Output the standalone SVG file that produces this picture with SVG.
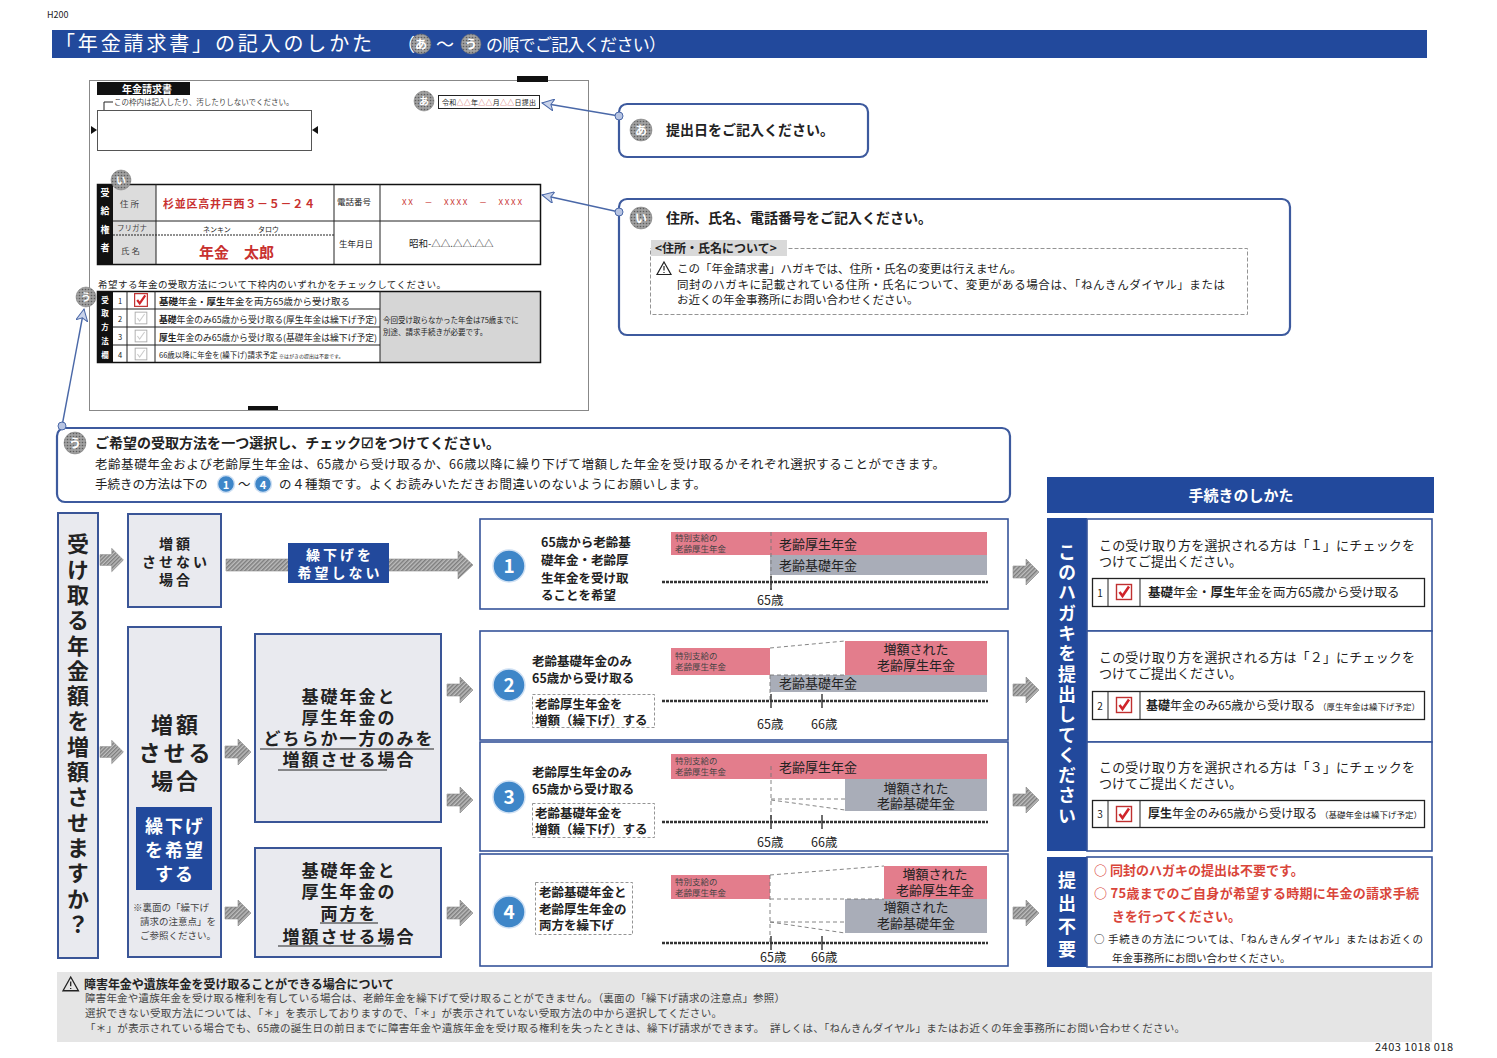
<svg xmlns="http://www.w3.org/2000/svg" width="1497" height="1058" viewBox="0 0 1497 1058">
<defs>
<style>
text{font-family:"Noto Sans CJK JP","Noto Sans",sans-serif;fill:#222}
.w{fill:#fff}
.b{font-weight:bold}
.red{fill:#c8312f}
.rd{fill:#d9453a}
.g4{fill:#444}
.m{text-anchor:middle}
.v{writing-mode:vertical-rl}
.bx{fill:#fff;stroke:#36549a;stroke-width:1.6}
.fb{fill:#e9eaef;stroke:#3a5597;stroke-width:2}
.blu{fill:#22499c}
.call{fill:#fff;stroke:#3d5a9e;stroke-width:2.2}
.pink{fill:#e37d8c}
.gbar{fill:#a9adb8}
.tl{stroke:#333;stroke-width:2.4;stroke-dasharray:3 1}
.tk{stroke:#333;stroke-width:1.4}
.dash{fill:none;stroke:#777;stroke-width:0.9;stroke-dasharray:4 3}
.dbox{fill:#fff;stroke:#888;stroke-width:0.9;stroke-dasharray:3 2}
.arr{fill:url(#hatch);stroke:#8a8a8a;stroke-width:0.6}
.num{fill:#3e86c8;stroke:#cfe0f3;stroke-width:1.5}
.ln{stroke:#222;stroke-width:1;fill:none}
.ptr{stroke:#4a68a8;stroke-width:1.4;fill:none}
.ball{fill:#b7c4e2;stroke:#4a68a8;stroke-width:1}
.bd{fill:url(#dots);stroke:#777;stroke-width:0.5}
</style>
<pattern id="hatch" width="3" height="3" patternUnits="userSpaceOnUse" patternTransform="rotate(45)">
<rect width="3" height="3" fill="#bdbdbd"/><rect width="1.5" height="3" fill="#7d7d7d"/>
</pattern>
<pattern id="dots" width="3" height="3" patternUnits="userSpaceOnUse">
<rect width="3" height="3" fill="#a0a0a0"/><circle cx="1.5" cy="1.5" r="0.8" fill="#5e5e5e"/>
</pattern>
<marker id="ah" markerWidth="14" markerHeight="12" refX="12" refY="6" orient="auto" markerUnits="userSpaceOnUse">
<path d="M0,0 L12,6 L0,12 L3,6 Z" fill="#c9d3ea" stroke="#4a68a8" stroke-width="1"/>
</marker>
<path id="sa" d="M0,-6 H13 V-13 L26,0 L13,13 V6 H0 Z"/>
<g id="chk"><rect x="-7.5" y="-7.5" width="15" height="15" fill="#fff" stroke="#c03030" stroke-width="1.4"/><path d="M-4.5,0 L-1.5,4 L5,-5.5" fill="none" stroke="#d0242a" stroke-width="2.6"/></g>
<g id="chkg"><rect x="-6.5" y="-6.5" width="13" height="13" fill="#fff" stroke="#aaa" stroke-width="1"/><path d="M-4,0 L-1.5,3.5 L4,-4.5" fill="none" stroke="#ccc" stroke-width="1.2"/></g>
<path id="warn" d="M7,0 L14,12.5 L0,12.5 Z M7,4 V8.5 M7,10 V11" fill="none" stroke="#222" stroke-width="1.2"/>
</defs>

<rect width="1497" height="1058" fill="#fff"/>

<g id="header">
<text x="47" y="18" font-size="9">H200</text>
<rect x="52" y="30" width="1375" height="28" class="blu"/>
<text x="55" y="51" font-size="20" class="w" textLength="317">「年金請求書」の記入のしかた</text>
<text x="397" y="51" font-size="18" class="w">（</text>
<circle cx="421" cy="44" r="10" class="bd"/><text x="421" y="49" font-size="12" class="w b m">あ</text>
<text x="436" y="51" font-size="18" class="w">～</text>
<circle cx="471" cy="44" r="10" class="bd"/><text x="471" y="49" font-size="12" class="w b m">う</text>
<text x="486" y="51" font-size="17" class="w" textLength="180">の順でご記入ください）</text>
</g>

<g id="form">
<rect x="89.5" y="80.5" width="499" height="330" fill="#fff" stroke="#888" stroke-width="1"/>
<rect x="517" y="76" width="31" height="6" fill="#111"/>
<rect x="248" y="406" width="30" height="4" fill="#111"/>
<rect x="97" y="82" width="93" height="13" fill="#111"/>
<text x="122" y="92.5" font-size="10" class="w b">年金請求書</text>
<path d="M104,110 V102 H113" class="ln" stroke-width="0.7"/>
<text x="114" y="105" font-size="7.5" class="g4">この枠内は記入したり、汚したりしないでください。</text>
<rect x="97.5" y="110.5" width="214" height="40" fill="#fff" stroke="#555"/>
<path d="M91,126 L97,130 L91,134Z" fill="#111"/>
<path d="M318,126 L312,130 L318,134Z" fill="#111"/>
<circle cx="424" cy="101" r="10" class="bd"/><text x="424" y="105" font-size="10" class="w b m">あ</text>
<rect x="438.5" y="95.5" width="101" height="13" fill="#fff" stroke="#222"/>
<text x="442" y="105" font-size="7" textLength="94">令和<tspan class="red">△△</tspan>年<tspan class="red">△△</tspan>月<tspan class="red">△△</tspan>日提出</text>

<rect x="97" y="184" width="16" height="80" fill="#111"/>
<text x="105" y="188" font-size="9" class="w b v" letter-spacing="9.5">受給権者</text>
<rect x="113" y="184" width="43" height="80" fill="#dcdcdc"/>
<rect x="97.5" y="184.5" width="443" height="80" fill="none" stroke="#111" stroke-width="1.5"/>
<path d="M113,221 H540 M156,184 V264 M334,184 V264 M380,184 V264" class="ln" stroke-width="0.9"/>
<path d="M113,235 H334" class="ln" stroke-width="0.7" stroke-dasharray="2 1"/>
<circle cx="121" cy="180" r="10" class="bd"/><text x="121" y="184" font-size="10" class="w b m">い</text>
<text x="120" y="207" font-size="8.5" class="g4">住 所</text>
<text x="117" y="231" font-size="7.5" class="g4">フリガナ</text>
<text x="121" y="254" font-size="8.5" class="g4">氏 名</text>
<text x="163" y="208" font-size="11" class="red b" textLength="152">杉並区高井戸西３－５－２４</text>
<text x="337" y="205" font-size="8.5">電話番号</text>
<text x="402" y="205" font-size="8" class="red" textLength="120">XX　－　XXXX　－　XXXX</text>
<text x="203" y="232" font-size="7">ネンキン</text>
<text x="258" y="232" font-size="7">タロウ</text>
<text x="199" y="258" font-size="15" class="red b">年金　太郎</text>
<text x="339" y="247" font-size="8.5">生年月日</text>
<text x="409" y="247" font-size="9.5">昭和-△△.△△.△△</text>

<text x="98" y="288" font-size="9.5" textLength="348">希望する年金の受取方法について下枠内のいずれかをチェックしてください。</text>
<rect x="97" y="291" width="16" height="71" fill="#111"/>
<text x="105" y="296" font-size="7.5" class="w b v" letter-spacing="6.4">受取方法欄</text>
<rect x="380" y="291" width="160" height="71" fill="#d6d6d6"/>
<rect x="97.5" y="291.5" width="443" height="71" fill="none" stroke="#111" stroke-width="1.5"/>
<path d="M113,309 H380 M113,327 H380 M113,345 H380 M127,291 V362 M155,291 V362 M380,291 V362" class="ln" stroke-width="0.9"/>
<circle cx="86" cy="297" r="10" class="bd"/><text x="86" y="301" font-size="10" class="w b m">う</text>
<text x="120" y="304" font-size="7.5" class="m">1</text>
<text x="120" y="322" font-size="7.5" class="m">2</text>
<text x="120" y="340" font-size="7.5" class="m">3</text>
<text x="120" y="358" font-size="7.5" class="m">4</text>
<use href="#chk" transform="translate(141,300) scale(0.85)"/>
<use href="#chkg" transform="translate(141,318) scale(0.9)"/>
<use href="#chkg" transform="translate(141,336) scale(0.9)"/>
<use href="#chkg" transform="translate(141,354) scale(0.9)"/>
<text x="159" y="304.5" font-size="9.5"><tspan class="b">基礎</tspan>年金・<tspan class="b">厚生</tspan>年金を両方65歳から受け取る</text>
<text x="159" y="322.5" font-size="8.8" textLength="218"><tspan class="b">基礎</tspan>年金のみ65歳から受け取る(厚生年金は繰下げ予定)</text>
<text x="159" y="340.5" font-size="8.8" textLength="218"><tspan class="b">厚生</tspan>年金のみ65歳から受け取る(基礎年金は繰下げ予定)</text>
<text x="159" y="357.5" font-size="7.5">66歳以降に年金を(繰下げ)請求予定 <tspan font-size="5">※はがきの提出は不要です。</tspan></text>
<text x="383" y="323" font-size="7.5">今回受け取らなかった年金は75歳までに</text>
<text x="383" y="335" font-size="7.5">別途、請求手続きが必要です。</text>
</g>

<g id="callout-a">
<rect x="619" y="104" width="249" height="53" rx="8" class="call"/>
<circle cx="641" cy="130" r="11" class="bd"/><text x="641" y="135" font-size="12" class="w b m">あ</text>
<text x="666" y="135" font-size="14" class="b">提出日をご記入ください。</text>
</g>

<g id="callout-i">
<rect x="619" y="199" width="671" height="136" rx="8" class="call"/>
<circle cx="641" cy="218" r="11" class="bd"/><text x="641" y="223" font-size="12" class="w b m">い</text>
<text x="666" y="223" font-size="14" class="b">住所、氏名、電話番号をご記入ください。</text>
<rect x="650.5" y="248.5" width="597" height="66" fill="none" stroke="#888" stroke-width="0.9" stroke-dasharray="4 2"/>
<rect x="651" y="240" width="136" height="16" fill="#d9d9d9"/>
<text x="655" y="252.5" font-size="12" class="b">&lt;住所・氏名について&gt;</text>
<use href="#warn" transform="translate(657,262)"/>
<text x="677" y="273" font-size="11.5">この「年金請求書」ハガキでは、住所・氏名の変更は行えません。</text>
<text x="677" y="289" font-size="11.5" textLength="548">同封のハガキに記載されている住所・氏名について、変更がある場合は、「ねんきんダイヤル」または</text>
<text x="677" y="304" font-size="11.5">お近くの年金事務所にお問い合わせください。</text>
</g>

<g id="callout-u">
<rect x="57" y="428" width="953" height="74" rx="8" class="call"/>
<circle cx="75" cy="443" r="11" class="bd"/><text x="75" y="448" font-size="12" class="w b m">う</text>
<text x="95" y="448" font-size="14" class="b" textLength="405">ご希望の受取方法を一つ選択し、チェック☑をつけてください。</text>
<text x="95" y="469" font-size="12.5" textLength="850">老齢基礎年金および老齢厚生年金は、65歳から受け取るか、66歳以降に繰り下げて増額した年金を受け取るかそれぞれ選択することができます。</text>
<text x="95" y="489" font-size="12.5">手続きの方法は下の</text>
<circle cx="226" cy="484" r="8.5" class="num"/><text x="226" y="488.5" font-size="11" class="w b m">1</text>
<text x="238" y="489" font-size="12.5">～</text>
<circle cx="263" cy="484" r="8.5" class="num"/><text x="263" y="488.5" font-size="11" class="w b m">4</text>
<text x="279" y="489" font-size="12.5" textLength="427">の４種類です。よくお読みいただきお間違いのないようにお願いします。</text>
</g>

<g id="connectors">
<line x1="619" y1="116" x2="542" y2="103" class="ptr" marker-end="url(#ah)"/>
<circle cx="619" cy="116" r="4" class="ball"/>
<line x1="619" y1="212" x2="542" y2="195" class="ptr" marker-end="url(#ah)"/>
<circle cx="619" cy="212" r="4" class="ball"/>
<line x1="62" y1="426" x2="84" y2="309" class="ptr" marker-end="url(#ah)"/>
<circle cx="62" cy="426" r="4" class="ball"/>
<use href="#sa" class="arr" transform="translate(100,560) scale(0.9)"/>
<use href="#sa" class="arr" transform="translate(100,752) scale(0.9)"/>
<use href="#sa" class="arr" transform="translate(225,752)"/>
<use href="#sa" class="arr" transform="translate(225,913)"/>
<use href="#sa" class="arr" transform="translate(447,690)"/>
<use href="#sa" class="arr" transform="translate(447,800)"/>
<use href="#sa" class="arr" transform="translate(447,913)"/>
<path d="M226,559 H458 V551 L473,565 L458,579 V571 H226 Z" class="arr"/>
<use href="#sa" class="arr" transform="translate(1013,572)"/>
<use href="#sa" class="arr" transform="translate(1013,690)"/>
<use href="#sa" class="arr" transform="translate(1013,800)"/>
<use href="#sa" class="arr" transform="translate(1013,913)"/>
</g>

<g id="question">
<rect x="58" y="513" width="40" height="445" class="fb"/>
<text x="78" y="533" font-size="22" class="b v" letter-spacing="3.3">受け取る年金額を増額させますか？</text>
</g>

<g id="no-increase">
<rect x="128" y="514" width="93" height="93" class="fb"/>
<text x="176" y="549" font-size="14" class="b m" letter-spacing="3">増額</text>
<text x="176" y="567" font-size="14" class="b m" letter-spacing="3">させない</text>
<text x="176" y="585" font-size="14" class="b m" letter-spacing="3">場合</text>
</g>

<g id="no-defer">
<rect x="288" y="543" width="101" height="40" class="blu"/>
<text x="340" y="560" font-size="14" class="w b m" letter-spacing="3">繰下げを</text>
<text x="340" y="578" font-size="14" class="w b m" letter-spacing="3">希望しない</text>
</g>

<g id="increase">
<rect x="128" y="627" width="93" height="330" class="fb"/>
<text x="176" y="733" font-size="22" class="b m" letter-spacing="3">増額</text>
<text x="176" y="761" font-size="22" class="b m" letter-spacing="3">させる</text>
<text x="176" y="789" font-size="22" class="b m" letter-spacing="3">場合</text>
<rect x="136" y="807" width="76" height="83" class="blu"/>
<text x="175" y="833" font-size="18" class="w b m" letter-spacing="2">繰下げ</text>
<text x="175" y="857" font-size="18" class="w b m" letter-spacing="2">を希望</text>
<text x="175" y="881" font-size="18" class="w b m" letter-spacing="2">する</text>
<text x="133" y="911" font-size="9.5" class="g4">※裏面の「繰下げ</text>
<text x="140" y="925" font-size="9.5" class="g4">請求の注意点」を</text>
<text x="140" y="939" font-size="9.5" class="g4">ご参照ください。</text>
</g>

<g id="one-side">
<rect x="255" y="634" width="186" height="188" class="fb"/>
<text x="349" y="703" font-size="17" class="b m" letter-spacing="2">基礎年金と</text>
<text x="349" y="724" font-size="17" class="b m" letter-spacing="2">厚生年金の</text>
<text x="349" y="745" font-size="17" class="b m" letter-spacing="2">どちらか一方のみを</text>
<text x="349" y="766" font-size="17" class="b m" letter-spacing="2">増額させる場合</text>
<path d="M260,749 H434 M278,770 H387" class="ln" stroke-width="1.6"/>
</g>

<g id="both">
<rect x="255" y="848" width="186" height="109" class="fb"/>
<text x="349" y="877" font-size="17" class="b m" letter-spacing="2">基礎年金と</text>
<text x="349" y="898" font-size="17" class="b m" letter-spacing="2">厚生年金の</text>
<text x="349" y="920" font-size="17" class="b m" letter-spacing="2">両方を</text>
<text x="349" y="943" font-size="17" class="b m" letter-spacing="2">増額させる場合</text>
<path d="M320,923 H378 M278,946 H386" class="ln" stroke-width="1.6"/>
</g>

<g id="chart-1">
<rect x="480" y="519" width="528" height="90" class="bx"/>
<circle cx="509" cy="566" r="16" class="num"/><text x="509" y="573" font-size="19" class="w b m">1</text>
<text x="541" y="547" font-size="12.5" class="b">65歳から老齢基</text>
<text x="541" y="565" font-size="12.5" class="b">礎年金・老齢厚</text>
<text x="541" y="583" font-size="12.5" class="b">生年金を受け取</text>
<text x="541" y="600" font-size="12.5" class="b">ることを希望</text>
<rect x="671" y="532" width="316" height="23" class="pink"/>
<rect x="770" y="555" width="217" height="20" class="gbar"/>
<text x="675" y="541" font-size="8.5" class="g4">特別支給の</text>
<text x="675" y="552" font-size="8.5" class="g4">老齢厚生年金</text>
<text x="779" y="549" font-size="13">老齢厚生年金</text>
<text x="779" y="570" font-size="13">老齢基礎年金</text>
<line x1="771" y1="532" x2="771" y2="590" class="dash" stroke="#333"/>
<line x1="662" y1="582" x2="988" y2="582" class="tl"/>
<line x1="771" y1="576" x2="771" y2="590" class="tk"/>
<text x="757" y="605" font-size="12.5">65歳</text>
</g>

<g id="chart-2">
<rect x="480" y="631" width="528" height="109" class="bx"/>
<circle cx="509" cy="685" r="16" class="num"/><text x="509" y="692" font-size="19" class="w b m">2</text>
<text x="532" y="666" font-size="12.5" class="b">老齢基礎年金のみ</text>
<text x="532" y="683" font-size="12.5" class="b">65歳から受け取る</text>
<rect x="532.5" y="694.5" width="122" height="33" class="dbox"/>
<text x="535" y="709" font-size="12.5" class="b">老齢厚生年金を</text>
<text x="535" y="725" font-size="12.5" class="b">増額（繰下げ）する</text>
<rect x="671" y="648" width="99" height="27" class="pink"/>
<rect x="845" y="641" width="142" height="34" class="pink"/>
<rect x="770" y="675" width="217" height="17" class="gbar"/>
<text x="675" y="659" font-size="8.5" class="g4">特別支給の</text>
<text x="675" y="670" font-size="8.5" class="g4">老齢厚生年金</text>
<text x="916" y="654" font-size="13" class="m">増額された</text>
<text x="916" y="670" font-size="13" class="m">老齢厚生年金</text>
<text x="779" y="688" font-size="13">老齢基礎年金</text>
<path d="M770,648 L845,641 M770,675 H845 M770,675 V700" class="dash"/>
<line x1="662" y1="701" x2="988" y2="701" class="tl"/>
<path d="M771,694 V708 M822,694 V708" class="tk"/>
<text x="757" y="729" font-size="12.5">65歳</text>
<text x="811" y="729" font-size="12.5">66歳</text>
</g>

<g id="chart-3">
<rect x="480" y="742" width="528" height="109" class="bx"/>
<circle cx="509" cy="797" r="16" class="num"/><text x="509" y="804" font-size="19" class="w b m">3</text>
<text x="532" y="777" font-size="12.5" class="b">老齢厚生年金のみ</text>
<text x="532" y="794" font-size="12.5" class="b">65歳から受け取る</text>
<rect x="532.5" y="803.5" width="122" height="34" class="dbox"/>
<text x="535" y="818" font-size="12.5" class="b">老齢基礎年金を</text>
<text x="535" y="834" font-size="12.5" class="b">増額（繰下げ）する</text>
<rect x="671" y="754" width="316" height="25" class="pink"/>
<rect x="845" y="779" width="142" height="32" class="gbar"/>
<text x="675" y="764" font-size="8.5" class="g4">特別支給の</text>
<text x="675" y="775" font-size="8.5" class="g4">老齢厚生年金</text>
<text x="779" y="772" font-size="13">老齢厚生年金</text>
<text x="916" y="793" font-size="13" class="m">増額された</text>
<text x="916" y="808" font-size="13" class="m">老齢基礎年金</text>
<path d="M771,766 V821 M771,799 H845 M771,800 L845,810" class="dash"/>
<line x1="662" y1="822" x2="988" y2="822" class="tl"/>
<path d="M771,815 V829 M822,815 V829" class="tk"/>
<text x="757" y="847" font-size="12.5">65歳</text>
<text x="811" y="847" font-size="12.5">66歳</text>
</g>

<g id="chart-4">
<rect x="480" y="854" width="528" height="112" class="bx"/>
<circle cx="509" cy="912" r="16" class="num"/><text x="509" y="919" font-size="19" class="w b m">4</text>
<rect x="535.5" y="882.5" width="97" height="52" class="dbox"/>
<text x="539" y="897" font-size="12.5" class="b">老齢基礎年金と</text>
<text x="539" y="914" font-size="12.5" class="b">老齢厚生年金の</text>
<text x="539" y="930" font-size="12.5" class="b">両方を繰下げ</text>
<rect x="671" y="875" width="99" height="24" class="pink"/>
<rect x="884" y="866" width="103" height="33" class="pink"/>
<rect x="845" y="899" width="142" height="34" class="gbar"/>
<text x="675" y="885" font-size="8.5" class="g4">特別支給の</text>
<text x="675" y="896" font-size="8.5" class="g4">老齢厚生年金</text>
<text x="935" y="879" font-size="13" class="m">増額された</text>
<text x="935" y="895" font-size="13" class="m">老齢厚生年金</text>
<text x="916" y="912" font-size="13" class="m">増額された</text>
<text x="916" y="928" font-size="13" class="m">老齢基礎年金</text>
<path d="M770,875 L884,866 M770,899 H884 M770,922 H845 M770,922 L845,933 M770,875 V942" class="dash"/>
<line x1="662" y1="943" x2="988" y2="943" class="tl"/>
<path d="M771,936 V950 M822,936 V950" class="tk"/>
<text x="760" y="962" font-size="12.5">65歳</text>
<text x="811" y="962" font-size="12.5">66歳</text>
</g>

<g id="procedure-header">
<rect x="1047" y="477" width="387" height="36" class="blu"/>
<text x="1241" y="501" font-size="15" class="w b m">手続きのしかた</text>
</g>

<g id="submit-column">
<rect x="1047" y="518" width="40" height="333" class="blu"/>
<text x="1067" y="543" font-size="18" class="w b v" letter-spacing="2.3">このハガキを提出してください</text>
</g>

<g id="proc-1">
<rect x="1087" y="519" width="345" height="112" class="bx"/>
<text x="1099" y="550" font-size="13" textLength="316">この受け取り方を選択される方は「１」にチェックを</text>
<text x="1099" y="566" font-size="13">つけてご提出ください。</text>
<rect x="1092.5" y="578.5" width="332" height="28" fill="#fff" stroke="#222" stroke-width="1.3"/>
<path d="M1108,578 V606 M1140,578 V606" class="ln"/>
<text x="1100" y="597" font-size="10" class="m">1</text>
<use href="#chk" transform="translate(1124,592)"/>
<text x="1148" y="597" font-size="12.5"><tspan class="b">基礎</tspan>年金・<tspan class="b">厚生</tspan>年金を両方65歳から受け取る</text>
</g>

<g id="proc-2">
<rect x="1087" y="631" width="345" height="111" class="bx"/>
<text x="1099" y="662" font-size="13" textLength="316">この受け取り方を選択される方は「２」にチェックを</text>
<text x="1099" y="678" font-size="13">つけてご提出ください。</text>
<rect x="1092.5" y="691.5" width="332" height="28" fill="#fff" stroke="#222" stroke-width="1.3"/>
<path d="M1108,691 V719 M1140,691 V719" class="ln"/>
<text x="1100" y="710" font-size="10" class="m">2</text>
<use href="#chk" transform="translate(1124,705)"/>
<text x="1146" y="710" font-size="12"><tspan class="b">基礎</tspan>年金のみ65歳から受け取る <tspan font-size="8.5">（厚生年金は繰下げ予定）</tspan></text>
</g>

<g id="proc-3">
<rect x="1087" y="742" width="345" height="109" class="bx"/>
<text x="1099" y="772" font-size="13" textLength="316">この受け取り方を選択される方は「３」にチェックを</text>
<text x="1099" y="788" font-size="13">つけてご提出ください。</text>
<rect x="1092.5" y="800.5" width="332" height="27" fill="#fff" stroke="#222" stroke-width="1.3"/>
<path d="M1108,800 V827 M1140,800 V827" class="ln"/>
<text x="1100" y="818" font-size="10" class="m">3</text>
<use href="#chk" transform="translate(1124,814)"/>
<text x="1148" y="818" font-size="12"><tspan class="b">厚生</tspan>年金のみ65歳から受け取る <tspan font-size="8.5">（基礎年金は繰下げ予定）</tspan></text>
</g>

<g id="not-required">
<rect x="1047" y="857" width="40" height="110" class="blu"/>
<text x="1067" y="871" font-size="18" class="w b v" letter-spacing="5">提出不要</text>
<rect x="1087" y="857" width="345" height="110" class="bx"/>
<text x="1094" y="875" font-size="13" class="rd b">○ 同封のハガキの提出は不要です。</text>
<text x="1094" y="898" font-size="13" class="rd b" textLength="325">○ 75歳までのご自身が希望する時期に年金の請求手続</text>
<text x="1112" y="921" font-size="13" class="rd b">きを行ってください。</text>
<text x="1094" y="943" font-size="10.5" textLength="329">○ 手続きの方法については、「ねんきんダイヤル」またはお近くの</text>
<text x="1112" y="962" font-size="10.5">年金事務所にお問い合わせください。</text>
</g>

<g id="note">
<rect x="57" y="972" width="1375" height="70" fill="#e5e5e5"/>
<use href="#warn" transform="translate(63,977) scale(1.1)"/>
<text x="84" y="989" font-size="12" class="b" textLength="310">障害年金や遺族年金を受け取ることができる場合について</text>
<text x="85" y="1002" font-size="10.5" class="g4" textLength="700">障害年金や遺族年金を受け取る権利を有している場合は、老齢年金を繰下げて受け取ることができません。（裏面の「繰下げ請求の注意点」参照）</text>
<text x="85" y="1017" font-size="10.5" class="g4" textLength="637">選択できない受取方法については、「＊」を表示しておりますので、「＊」が表示されていない受取方法の中から選択してください。</text>
<text x="85" y="1032" font-size="10.5" class="g4" textLength="1100">「＊」が表示されている場合でも、65歳の誕生日の前日までに障害年金や遺族年金を受け取る権利を失ったときは、繰下げ請求ができます。　詳しくは、「ねんきんダイヤル」またはお近くの年金事務所にお問い合わせください。</text>
<text x="1375" y="1051" font-size="11" textLength="78">2403 1018 018</text>
</g>
</svg>
